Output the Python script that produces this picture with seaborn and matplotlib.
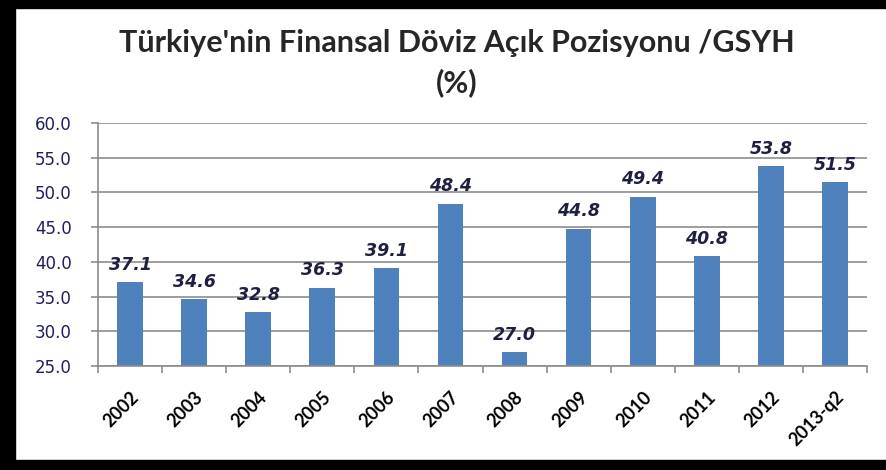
import matplotlib
matplotlib.use("Agg")
import matplotlib.pyplot as plt
import seaborn as sns
from matplotlib.patches import Rectangle
from matplotlib.ticker import FixedLocator

categories = ["2002", "2003", "2004", "2005", "2006", "2007", "2008",
              "2009", "2010", "2011", "2012", "2013-q2"]
values = [37.1, 34.6, 32.8, 36.3, 39.1, 48.4, 27.0, 44.8, 49.4, 40.8, 53.8, 51.5]
yticks = [25, 30, 35, 40, 45, 50, 55, 60]

title = "Türkiye'nin Finansal Döviz Açık Pozisyonu /GSYH\n(%)"

sns.set_style("white")
plt.rcParams["font.family"] = ["Lato", "DejaVu Sans"]

fig = plt.figure(figsize=(8.86, 4.70), dpi=100)
ax = fig.add_axes([98 / 886, 1 - 366 / 470, (867 - 98) / 886, (366 - 123) / 470])

sns.barplot(x=categories, y=values, color="#4F81BD", width=0.4, ax=ax,
            saturation=1, edgecolor="none")

ax.set_ylim(25, 60)
ax.set_xlim(-0.5, len(categories) - 0.5)
ax.set_yticks(yticks)
ax.set_yticklabels([f"{v:.1f}" for v in yticks], family="DejaVu Sans",
                   fontsize=12, color="#1F1F5C")
ax.yaxis.grid(True, color="#8C8C8C", linewidth=1.2)
ax.set_axisbelow(True)
ax.tick_params(axis="y", which="major", length=5, color="#8C8C8C", width=1.2,
               direction="out", left=True, pad=14)

# x ticks: labels at centers, tick marks between categories
ax.set_xticks(range(len(categories)))
ax.set_xticklabels(categories, rotation=45, ha="right", rotation_mode="anchor",
                   fontsize=13, fontweight="bold", color="black")
ax.tick_params(axis="x", which="major", length=0, pad=16)
ax.xaxis.set_minor_locator(FixedLocator([i - 0.5 for i in range(len(categories) + 1)]))
ax.tick_params(axis="x", which="minor", length=5, color="#8C8C8C", width=1.2,
               direction="out", bottom=True)

for side in ["top", "right"]:
    ax.spines[side].set_visible(False)
for side in ["left", "bottom"]:
    ax.spines[side].set_color("#8C8C8C")
    ax.spines[side].set_linewidth(1.2)

ax.bar_label(ax.containers[0], fmt="%.1f", padding=6, family="DejaVu Sans",
             fontsize=12.5, fontweight="bold", fontstyle="italic", color="#1F1F3F")

fig.text(457 / 886, 1 - 63 / 470, title, ha="center", va="center",
         fontsize=22, fontweight="bold", linespacing=1.45)

# black frame around the chart
fig.add_artist(Rectangle((0, 0), 15 / 886, 1, transform=fig.transFigure, color="black", zorder=10))
fig.add_artist(Rectangle((0, 1 - 8 / 470), 1, 8 / 470, transform=fig.transFigure, color="black", zorder=10))
fig.add_artist(Rectangle((0, 0), 1, 10 / 470, transform=fig.transFigure, color="black", zorder=10))

fig.savefig("out.png", dpi=100)
plt.close(fig)
